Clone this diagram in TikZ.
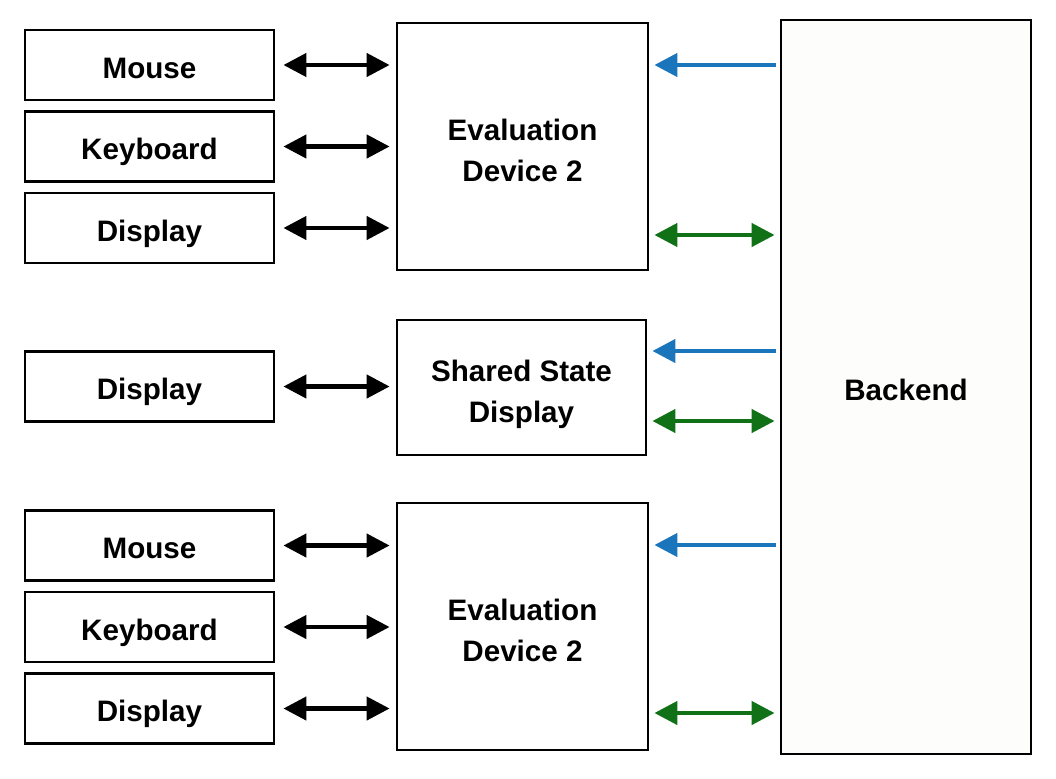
\documentclass[tikz,border=0pt]{standalone}
\usepackage{fontspec}
\newfontfamily\boxfont{Liberation Sans}
\usetikzlibrary{arrows.meta, positioning}
\definecolor{cmdblue}{RGB}{26,117,187}
\definecolor{syncgreen}{RGB}{17,113,22}
\definecolor{backfill}{RGB}{253,253,251}

\begin{document}
\begin{tikzpicture}[
        x=0.5pt, y=-0.5pt, node distance=40.75pt, on grid,
        >={Triangle[length=11.5pt,width=11.5pt]},
        every node/.style={font=\boxfont\bfseries\fontsize{14.8}{20.5}\selectfont, align=center},
        box/.style={draw, line width=1.4pt, inner sep=0pt},
        oneline/.style={text height=13pt, text depth=0pt},
        twoline/.style={text height=34.5pt, text depth=0pt},
        io/.style={box, oneline, minimum width=124.5pt, minimum height=35pt},
        evalbox/.style={box, twoline, minimum width=125.5pt, minimum height=123.5pt},
        link/.style={<->, line width=2.2pt, shorten <=4pt, shorten >=3pt},
        cmd/.style={->, cmdblue, line width=2.2pt, shorten <=2pt, shorten >=2.5pt},
        sync/.style={<->, syncgreen, line width=2.2pt, shorten <=2.5pt, shorten >=2.5pt},
        ]
        \useasboundingbox (0,0) rectangle (1056,778);

        % devices and backend
        \node[evalbox] (eval1) at (522.5,146.5) {Evaluation\\Device 2};
        \node[box, twoline, minimum width=124.5pt, minimum height=67.5pt] (shared) at (521.5,387.5) {Shared State\\Display};
        \node[evalbox] (eval2) at (522.5,626.5) {Evaluation\\Device 2};
        \node[box, oneline, fill=backfill, minimum width=125pt, minimum height=367pt] (backend) at (906,387) {Backend};

        % peripherals
        \node[io] (mouse1) at (149.5,65) {Mouse};
        \node[io, below=of mouse1] (keys1) {Keyboard};
        \node[io, below=of keys1] (screen1) {Display};
        \node[io] (screen2) at (149.5,386.5) {Display};
        \node[io] (mouse3) at (149.5,545.5) {Mouse};
        \node[io, below=of mouse3] (keys3) {Keyboard};
        \node[io, below=of keys3] (screen3) {Display};

        \foreach \io/\dev in {mouse1/eval1, keys1/eval1, screen1/eval1, screen2/shared, mouse3/eval2, keys3/eval2, screen3/eval2}
          \draw[link] (\io.east) -- (\io.east -| \dev.west);

        \foreach \dev/\cy/\sy in {eval1/65/235, shared/351/421, eval2/545/713} {
          \draw[cmd] (backend.west |- 0,\cy) -- (\dev.east |- 0,\cy);
          \draw[sync] (\dev.east |- 0,\sy) -- (backend.west |- 0,\sy);
        }
\end{tikzpicture}
\end{document}
